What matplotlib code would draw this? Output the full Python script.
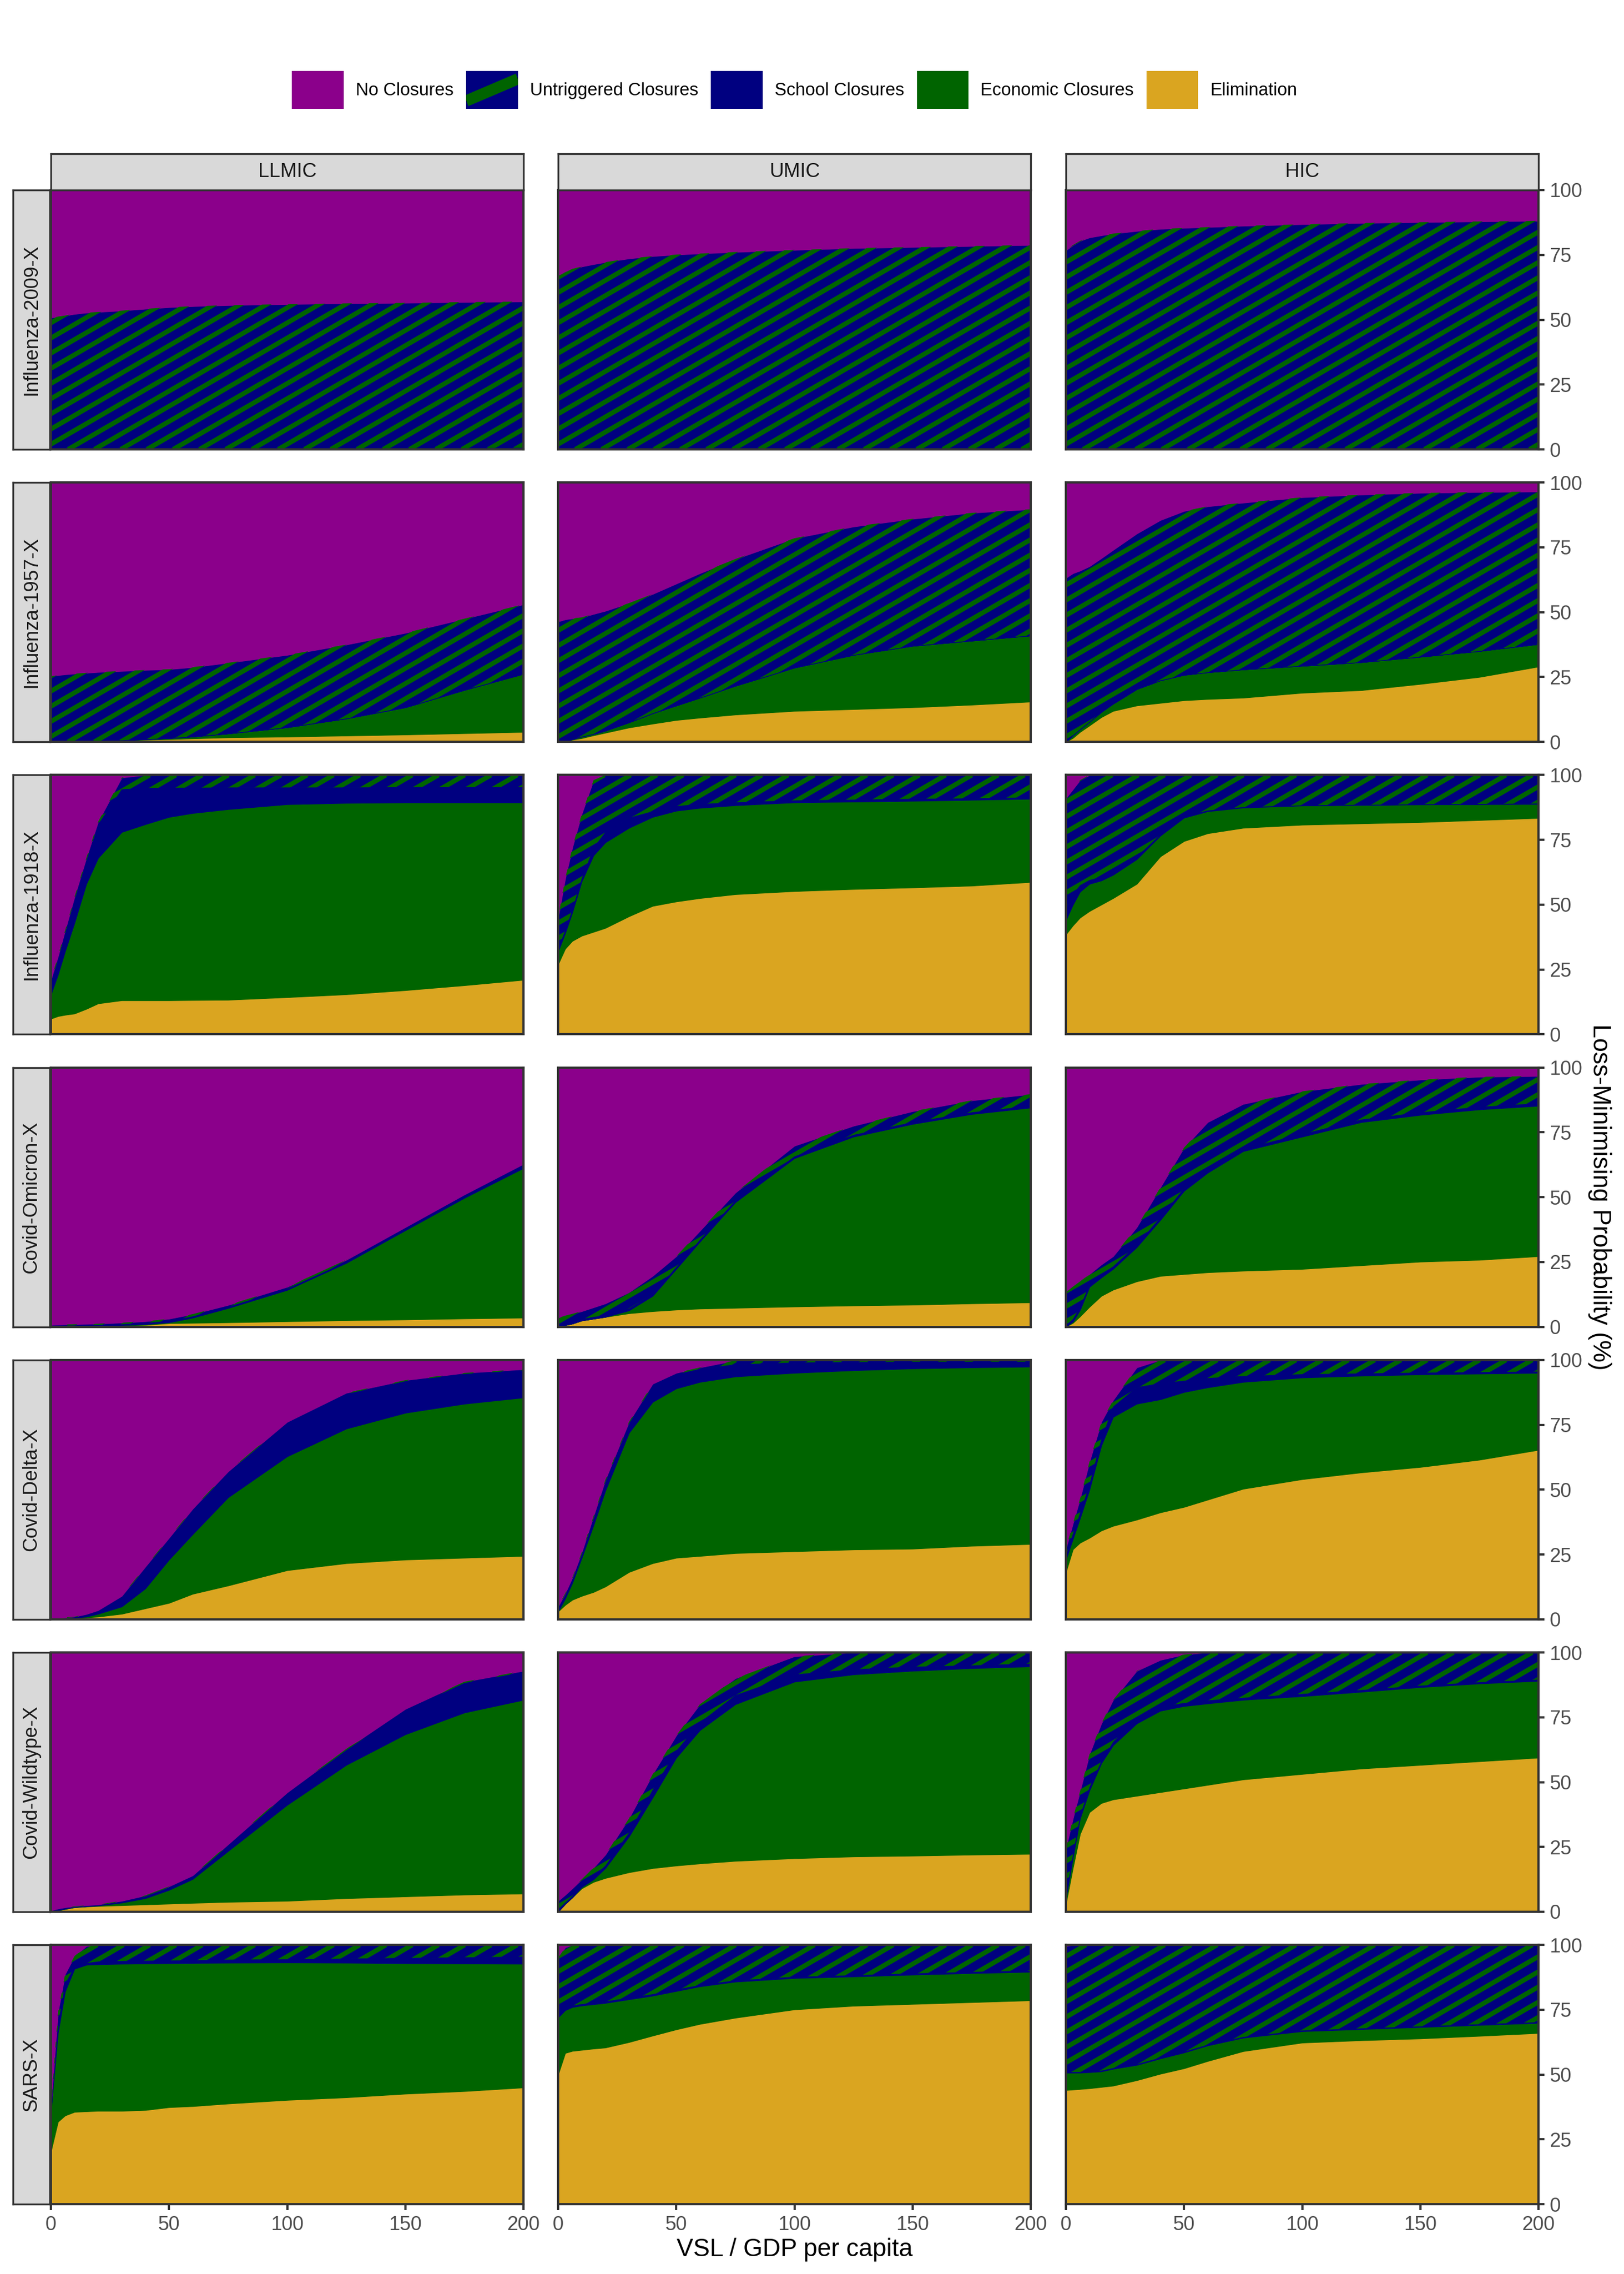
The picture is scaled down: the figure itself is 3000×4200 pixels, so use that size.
import numpy as np
import matplotlib.pyplot as plt
from matplotlib.collections import LineCollection
from matplotlib.legend_handler import HandlerBase
from matplotlib.lines import Line2D
from matplotlib.patches import Patch, Rectangle

plt.rcParams['font.family'] = ['Liberation Sans', 'DejaVu Sans']

# ---- data, upper edge of each stacked band in % ----
vsl = [0, 3, 6, 10, 15, 20, 30, 40, 50, 60, 75, 100, 125, 150, 175, 200]
pathogens = ['Influenza-2009-X', 'Influenza-1957-X', 'Influenza-1918-X',
             'Covid-Omicron-X', 'Covid-Delta-X', 'Covid-Wildtype-X', 'SARS-X']
incomes = ['LLMIC', 'UMIC', 'HIC']
strategies = ['No Closures', 'Untriggered Closures', 'School Closures',
              'Economic Closures', 'Elimination']

# top of Elimination band  [LLMIC, UMIC, HIC]
elim_top = {
    'Influenza-2009-X': [[0, 0, 0, 0, 0, 0, 0, 0, 0, 0, 0, 0.1, 0.2, 0.3, 0.4, 0.6],
                         [0, 0, 0, 0, 0, 0, 0, 0, 0, 0, 0, 0.1, 0.1, 0.2, 0.2, 0.3],
                         [0, 0, 0, 0, 0, 0, 0, 0, 0, 0, 0.1, 0.1, 0.2, 0.2, 0.3, 0.4]],
    'Influenza-1957-X': [[0, 0, 0, 0.1, 0.2, 0.3, 0.5, 0.8, 1.0, 1.3, 1.7, 2.0, 2.4, 2.8, 3.3, 3.8],
                         [0, 0.3, 0.8, 1.4, 2.5, 3.5, 5.5, 7.0, 8.4, 9.3, 10.5, 11.9, 12.6, 13.3, 14.3, 15.5],
                         [0, 1.5, 3.8, 6.3, 9.5, 11.9, 14.0, 15.0, 16.0, 16.5, 17.0, 18.9, 19.9, 22.3, 25.0, 29.0]],
    'Influenza-1918-X': [[6.0, 7.0, 7.5, 8.0, 9.8, 11.9, 13.1, 13.1, 13.1, 13.2, 13.3, 14.3, 15.4, 17.0, 18.9, 21.0],
                         [27.0, 33.0, 36.0, 38.0, 39.5, 41.0, 45.5, 49.5, 51.2, 52.5, 54.0, 55.2, 56.0, 56.6, 57.3, 58.7],
                         [38.5, 42.0, 45.0, 47.5, 50.0, 52.5, 58.0, 68.6, 74.5, 77.5, 79.6, 80.8, 81.3, 81.8, 82.6, 83.4]],
    'Covid-Omicron-X': [[0, 0, 0, 0.1, 0.2, 0.3, 0.4, 0.7, 1.4, 1.5, 1.7, 2.1, 2.5, 2.8, 3.2, 3.5],
                        [0, 0.6, 1.2, 2.4, 3.1, 3.8, 5.2, 6.0, 6.6, 7.0, 7.3, 7.8, 8.2, 8.5, 9.0, 9.4],
                        [0, 1.5, 4.0, 7.7, 11.9, 14.3, 17.5, 19.6, 20.3, 21.0, 21.6, 22.3, 23.7, 25.1, 25.8, 27.2]],
    'Covid-Delta-X': [[0, 0.1, 0.2, 0.5, 0.7, 1.0, 2.1, 4.2, 6.3, 9.8, 13.0, 18.9, 21.6, 23.0, 23.7, 24.4],
                      [3.0, 5.5, 7.5, 9.0, 10.5, 12.6, 18.2, 21.6, 23.7, 24.4, 25.5, 26.2, 26.9, 27.2, 28.3, 29.0],
                      [18.2, 27.0, 29.5, 31.4, 34.2, 36.0, 38.4, 41.2, 43.3, 46.1, 50.3, 54.0, 56.6, 58.7, 61.5, 65.3]],
    'Covid-Wildtype-X': [[0, 0.5, 1.0, 1.7, 2.0, 2.2, 2.5, 2.8, 3.1, 3.4, 3.8, 4.2, 5.2, 5.9, 6.6, 7.0],
                         [0, 3.0, 5.5, 9.0, 11.5, 13.0, 15.2, 16.8, 17.8, 18.6, 19.6, 20.6, 21.3, 21.6, 22.0, 22.3],
                         [3.0, 17.0, 30.0, 38.4, 41.9, 43.3, 44.7, 46.1, 47.5, 48.9, 51.0, 53.1, 55.2, 56.6, 58.0, 59.4]],
    'SARS-X': [[20.3, 31.8, 34.2, 35.6, 35.8, 36.0, 36.0, 36.3, 37.4, 37.8, 38.8, 40.2, 41.2, 42.6, 43.6, 45.0],
               [50.0, 58.3, 59.1, 59.5, 60.0, 60.4, 62.5, 65.0, 67.4, 69.5, 71.9, 75.1, 76.5, 77.2, 77.9, 78.6],
               [44.0, 44.2, 44.4, 44.7, 45.2, 45.7, 47.8, 50.3, 52.4, 55.2, 59.0, 62.3, 63.2, 63.9, 64.9, 66.0]],
}

# top of Economic Closures band
econ_top = {
    'Influenza-2009-X': [[0, 0, 0, 0, 0, 0, 0, 0, 0, 0, 0, 0.1, 0.2, 0.3, 0.4, 0.6],
                         [0, 0, 0, 0, 0, 0, 0, 0, 0, 0, 0, 0.1, 0.1, 0.2, 0.2, 0.3],
                         [0, 0, 0, 0, 0, 0, 0, 0, 0, 0, 0.1, 0.1, 0.2, 0.2, 0.3, 0.4]],
    'Influenza-1957-X': [[0, 0, 0, 0.1, 0.2, 0.3, 0.6, 1.0, 1.4, 2.0, 3.2, 5.6, 9.0, 13.3, 20.0, 26.2],
                         [0, 0.3, 1.0, 2.0, 3.0, 4.3, 7.5, 11.0, 14.0, 17.0, 21.6, 28.6, 33.5, 37.0, 39.0, 41.0],
                         [0, 2.5, 4.8, 7.7, 11.5, 14.7, 20.3, 23.7, 25.8, 26.8, 27.9, 29.3, 30.7, 32.8, 35.0, 37.7]],
    'Influenza-1918-X': [[15.4, 23.0, 32.0, 43.0, 58.0, 68.0, 78.0, 81.0, 83.8, 85.3, 86.8, 88.7, 89.2, 89.4, 89.4, 89.4],
                         [32.0, 39.0, 47.0, 59.0, 69.0, 74.0, 79.6, 83.8, 86.2, 87.3, 88.3, 89.4, 89.7, 90.0, 90.4, 90.8],
                         [44.0, 50.0, 55.0, 58.0, 59.3, 61.5, 67.5, 76.6, 83.5, 86.0, 87.4, 88.2, 88.4, 88.6, 88.7, 88.8]],
    'Covid-Omicron-X': [[0, 0, 0.1, 0.2, 0.3, 0.4, 0.6, 1.0, 1.7, 3.5, 7.2, 14.2, 24.6, 37.2, 49.7, 61.2],
                        [0, 0.6, 1.2, 2.4, 3.1, 3.8, 6.3, 11.9, 22.3, 32.8, 48.0, 65.0, 73.3, 78.2, 82.0, 84.5],
                        [0, 2.0, 6.5, 15.4, 19.0, 22.3, 30.7, 41.2, 52.4, 59.4, 67.7, 73.3, 78.9, 81.7, 83.8, 85.2]],
    'Covid-Delta-X': [[0.1, 0.2, 0.3, 0.6, 1.0, 2.1, 4.9, 11.9, 23.0, 32.8, 47.0, 62.8, 73.5, 79.6, 83.1, 85.5],
                      [3.0, 8.0, 14.0, 23.7, 36.3, 49.6, 71.9, 83.8, 89.0, 91.5, 93.6, 95.0, 96.0, 96.7, 97.1, 97.4],
                      [23.0, 31.0, 39.0, 50.0, 67.0, 78.0, 83.1, 84.8, 87.6, 89.4, 91.5, 93.2, 93.9, 94.4, 94.7, 95.0]],
    'Covid-Wildtype-X': [[0, 0.6, 1.1, 1.8, 2.1, 2.4, 3.5, 5.2, 8.4, 12.6, 23.4, 41.2, 56.6, 68.4, 76.8, 81.7],
                         [0, 3.0, 5.5, 9.5, 12.5, 16.8, 29.0, 44.0, 59.4, 70.0, 80.0, 88.7, 91.5, 92.9, 93.9, 94.6],
                         [5.0, 21.0, 36.0, 46.8, 57.3, 64.2, 72.6, 77.5, 79.3, 80.3, 81.7, 83.1, 84.8, 86.6, 88.0, 89.0]],
    'SARS-X': [[36.0, 66.0, 82.0, 90.8, 92.3, 92.5, 92.7, 92.8, 92.9, 93.0, 93.1, 93.2, 93.1, 92.9, 92.8, 92.7],
               [72.0, 74.8, 76.0, 76.6, 77.1, 77.6, 79.0, 80.4, 82.2, 84.0, 85.8, 87.2, 87.8, 88.5, 89.1, 89.6],
               [50.7, 50.7, 50.7, 50.9, 51.2, 52.2, 53.7, 56.2, 58.5, 61.2, 64.2, 66.7, 67.5, 68.3, 69.1, 69.9]],
}

# top of School Closures band
school_top = {
    'Influenza-2009-X': [[0, 0, 0, 0, 0, 0, 0, 0, 0, 0, 0, 0.1, 0.2, 0.3, 0.4, 0.6],
                         [0, 0, 0, 0, 0, 0, 0, 0, 0, 0, 0, 0.1, 0.1, 0.2, 0.2, 0.3],
                         [0, 0, 0, 0, 0, 0, 0, 0, 0, 0, 0.1, 0.1, 0.2, 0.2, 0.3, 0.4]],
    'Influenza-1957-X': [[0, 0, 0, 0.1, 0.2, 0.3, 0.6, 1.0, 1.4, 2.0, 3.2, 5.6, 9.0, 13.3, 20.0, 26.2],
                         [0, 0.3, 1.0, 2.0, 3.0, 4.3, 7.5, 11.0, 14.0, 17.0, 21.6, 28.6, 33.5, 37.0, 39.0, 41.0],
                         [0, 2.5, 4.8, 7.7, 11.5, 14.7, 20.3, 23.7, 25.8, 26.8, 27.9, 29.3, 30.7, 32.8, 35.0, 37.7]],
    'Influenza-1918-X': [[20.0, 29.0, 39.0, 52.0, 67.0, 81.0, 94.5, 95.0, 95.1, 95.1, 95.2, 95.2, 95.2, 95.3, 95.3, 95.3],
                         [33.0, 40.0, 48.0, 60.0, 72.0, 78.0, 83.5, 86.0, 88.0, 88.8, 89.5, 90.2, 90.5, 90.8, 91.0, 91.3],
                         [49.0, 54.0, 57.5, 59.5, 60.6, 62.5, 68.5, 77.0, 84.0, 86.3, 87.6, 88.3, 88.5, 88.7, 88.8, 89.0]],
    'Covid-Omicron-X': [[0.2, 0.3, 0.4, 0.5, 0.6, 0.7, 1.0, 1.5, 2.2, 4.0, 7.7, 14.7, 25.0, 37.7, 50.2, 62.0],
                        [0.4, 1.0, 1.8, 3.0, 3.8, 4.5, 7.0, 12.6, 23.0, 33.5, 48.7, 65.7, 74.0, 78.9, 82.7, 85.2],
                        [0.5, 3.0, 7.5, 16.4, 20.0, 23.3, 31.7, 42.2, 53.4, 60.4, 68.7, 74.3, 79.9, 82.7, 84.8, 86.2]],
    'Covid-Delta-X': [[0.2, 0.3, 0.5, 0.8, 1.6, 3.1, 8.6, 19.9, 31.0, 42.2, 56.6, 75.7, 86.9, 91.8, 94.6, 96.0],
                      [4.5, 9.5, 15.5, 25.0, 39.0, 53.0, 75.5, 90.0, 94.5, 96.5, 98.3, 99.0, 99.2, 99.3, 99.3, 99.3],
                      [24.5, 33.0, 41.0, 52.0, 69.5, 82.0, 89.5, 91.0, 92.0, 93.0, 93.8, 94.5, 94.8, 95.1, 95.3, 95.5]],
    'Covid-Wildtype-X': [[0.3, 0.9, 1.4, 1.9, 2.3, 2.6, 3.9, 6.0, 9.4, 13.5, 25.5, 45.5, 62.3, 77.7, 88.2, 92.4],
                         [1.0, 3.5, 6.0, 10.0, 13.5, 17.8, 30.5, 47.0, 62.0, 73.0, 83.5, 91.5, 93.5, 94.5, 95.0, 95.7],
                         [6.0, 22.0, 37.0, 48.0, 58.0, 65.5, 74.5, 79.0, 80.5, 81.5, 82.5, 84.0, 85.5, 87.2, 88.5, 89.5]],
    'SARS-X': [[37.0, 69.0, 85.0, 91.5, 93.0, 93.6, 93.8, 93.9, 94.0, 94.1, 94.3, 94.5, 94.7, 95.0, 95.2, 95.5],
               [73.3, 75.5, 76.6, 77.2, 77.7, 78.2, 79.6, 81.0, 82.8, 84.5, 86.3, 87.7, 88.3, 89.0, 89.6, 90.1],
               [51.0, 51.0, 51.0, 51.2, 51.5, 52.5, 54.0, 56.5, 58.8, 61.5, 64.5, 67.0, 67.8, 68.6, 69.4, 70.2]],
}

# top of Untriggered Closures band (rest up to 100 is No Closures)
untrig_top = {
    'Influenza-2009-X': [[50.8, 51.2, 51.6, 52.2, 52.7, 53.0, 53.5, 54.2, 54.8, 55.2, 55.6, 56.0, 56.3, 56.5, 56.8, 57.0],
                         [66.8, 68.3, 69.6, 70.5, 71.4, 72.2, 73.6, 74.5, 75.1, 75.5, 76.1, 76.9, 77.6, 78.0, 78.4, 78.8],
                         [76.7, 78.8, 80.4, 81.7, 82.5, 83.2, 84.2, 85.0, 85.4, 85.7, 86.2, 86.8, 87.3, 87.6, 87.9, 88.1]],
    'Influenza-1957-X': [[25.3, 25.7, 26.0, 26.3, 26.6, 26.9, 27.3, 27.7, 28.0, 28.8, 30.5, 33.5, 37.5, 42.0, 47.5, 53.0],
                         [46.4, 47.2, 47.6, 48.0, 49.3, 50.5, 53.5, 57.0, 61.0, 65.0, 70.5, 78.5, 83.0, 86.0, 88.3, 89.7],
                         [63.2, 65.0, 66.0, 67.7, 70.8, 74.0, 80.3, 85.5, 89.0, 90.8, 92.2, 94.3, 95.3, 96.0, 96.3, 96.5]],
    'Influenza-1918-X': [[21.0, 30.0, 40.0, 53.0, 68.0, 82.0, 99.0, 100, 100, 100, 100, 100, 100, 100, 100, 100],
                         [45.0, 60.0, 72.0, 85.0, 98.0, 100, 100, 100, 100, 100, 100, 100, 100, 100, 100, 100],
                         [91.0, 94.5, 98.0, 100, 100, 100, 100, 100, 100, 100, 100, 100, 100, 100, 100, 100]],
    'Covid-Omicron-X': [[0.7, 0.8, 0.9, 1.0, 1.1, 1.2, 1.6, 2.1, 3.1, 4.9, 8.4, 15.4, 25.8, 38.4, 51.0, 62.8],
                        [3.5, 4.3, 5.0, 6.0, 7.5, 9.0, 13.3, 19.6, 27.2, 37.0, 51.7, 69.8, 77.5, 83.1, 87.3, 89.7],
                        [13.3, 15.5, 17.5, 20.3, 24.0, 27.2, 38.4, 53.8, 69.1, 78.9, 85.9, 90.8, 93.6, 95.3, 96.4, 96.7]],
    'Covid-Delta-X': [[0.3, 0.5, 0.7, 1.0, 2.0, 3.5, 9.0, 20.3, 31.4, 42.6, 57.0, 76.1, 87.3, 92.2, 95.0, 96.4],
                      [4.9, 10.0, 16.0, 25.8, 39.8, 53.8, 76.1, 90.8, 95.0, 97.1, 99.8, 100, 100, 100, 100, 100],
                      [27.2, 37.0, 46.5, 60.8, 76.1, 84.5, 97.1, 100, 100, 100, 100, 100, 100, 100, 100, 100]],
    'Covid-Wildtype-X': [[0.5, 1.2, 1.7, 2.1, 2.5, 2.8, 4.2, 6.3, 9.8, 14.0, 26.0, 46.0, 62.8, 78.2, 88.7, 92.9],
                         [4.2, 6.5, 9.0, 12.5, 17.0, 22.0, 36.0, 53.0, 68.0, 80.0, 90.0, 98.5, 100, 100, 100, 100],
                         [24.4, 36.0, 46.5, 60.8, 72.6, 81.7, 92.9, 97.1, 99.2, 100, 100, 100, 100, 100, 100, 100]],
    'SARS-X': [[38.0, 74.0, 88.7, 95.7, 99.5, 100, 100, 100, 100, 100, 100, 100, 100, 100, 100, 100],
               [95.0, 99.0, 100, 100, 100, 100, 100, 100, 100, 100, 100, 100, 100, 100, 100, 100],
               [99.5, 100, 100, 100, 100, 100, 100, 100, 100, 100, 100, 100, 100, 100, 100, 100]],
}

PURPLE = '#8B008B'
NAVY = '#000080'
GREEN = '#006400'
GOLD = '#DAA520'
layer_colors = [GOLD, GREEN, NAVY, NAVY, PURPLE]   # bottom -> top

W, H = 3000, 4200
fig = plt.figure(figsize=(10, 14), dpi=300)

col_left = [94, 1031, 1969]
pw = 873
row_top = [351 + 540.2 * i for i in range(7)]
ph = 479


def box(x0, y0, w, h):
    # pixel box (top-left origin) -> figure fraction
    return [x0 / W, 1 - (y0 + h) / H, w / W, h / H]


def add_stripes(ax, poly):
    # green 30-degree stripes over the navy band
    bb = ax.get_position()
    wpx, hpx = bb.width * W, bb.height * H
    run = hpx / np.tan(np.radians(30))
    segs = [[(c / wpx, 0), ((c + run) / wpx, 1)]
            for c in np.arange(-run - 60, wpx + 60, 48.5)]
    lc = LineCollection(segs, colors=GREEN, linewidths=2.1,
                        transform=ax.transAxes, capstyle='butt')
    ax.add_collection(lc, autolim=False)
    lc.set_clip_path(poly.get_paths()[0], ax.transData)


BORDER = '#333333'
for r, pat in enumerate(pathogens):
    for c, inc in enumerate(incomes):
        ax = fig.add_axes(box(col_left[c], row_top[r], pw, ph))
        e = np.array(elim_top[pat][c], float)
        k = np.array(econ_top[pat][c], float)
        s = np.array(school_top[pat][c], float)
        u = np.array(untrig_top[pat][c], float)
        tops = np.vstack([np.zeros_like(e), e, k, s, u, np.full_like(e, 100)])
        shares = np.clip(np.diff(tops, axis=0), 0, None)
        polys = ax.stackplot(vsl, *shares, colors=layer_colors)
        for p, col in zip(polys, layer_colors):
            p.set_edgecolor(col)
            p.set_linewidth(0.3)
        add_stripes(ax, polys[3])
        ax.set_xlim(0, 200)
        ax.set_ylim(0, 100)
        for sp in ax.spines.values():
            sp.set_color(BORDER)
            sp.set_linewidth(1.0)
            sp.set_zorder(5)
        ax.tick_params(length=2.75, width=1.0, color=BORDER, labelsize=8.8,
                       labelcolor='#4D4D4D', pad=2.2)
        ax.set_xticks([0, 50, 100, 150, 200])
        ax.set_yticks([0, 25, 50, 75, 100])
        if r < 6:
            ax.tick_params(bottom=False, labelbottom=False)
        if c == 2:
            ax.yaxis.tick_right()
        else:
            ax.tick_params(left=False, labelleft=False)

        if r == 0:
            sax = fig.add_axes(box(col_left[c], 284, pw, 67))
            sax.set_facecolor('#D9D9D9')
            sax.set_xticks([])
            sax.set_yticks([])
            for sp in sax.spines.values():
                sp.set_color(BORDER)
                sp.set_linewidth(0.8)
            sax.text(0.5, 0.5, inc, ha='center', va='center', fontsize=8.8,
                     color='#1A1A1A', transform=sax.transAxes)
        if c == 0:
            sax = fig.add_axes(box(24, row_top[r], 68, ph))
            sax.set_facecolor('#D9D9D9')
            sax.set_xticks([])
            sax.set_yticks([])
            for sp in sax.spines.values():
                sp.set_color(BORDER)
                sp.set_linewidth(0.8)
            sax.text(0.5, 0.5, pat, ha='center', va='center', fontsize=8.8,
                     color='#1A1A1A', rotation=90, transform=sax.transAxes)

fig.text(1468 / W, 1 - 4155 / H, 'VSL / GDP per capita', ha='center',
         va='center', fontsize=11)
fig.text(2955 / W, 1 - 2211 / H, 'Loss-Minimising Probability (%)', ha='center',
         va='center', fontsize=11, rotation=270)


class StripeKey(HandlerBase):
    def create_artists(self, legend, orig, xd, yd, w, h, fontsize, trans):
        x0, y0 = -xd, -yd
        bg = Rectangle((x0, y0), w, h, facecolor=NAVY, edgecolor='none',
                       transform=trans)
        st = Line2D([x0, x0 + w], [y0 + 0.21 * h, y0 + 0.79 * h], color=GREEN,
                    lw=5, solid_capstyle='butt', transform=trans)
        st.set_clip_path(bg)
        return [bg, st]


leg_colors = [PURPLE, NAVY, NAVY, GREEN, GOLD]
handles = [Patch(facecolor=col, edgecolor='none') for col in leg_colors]
fig.legend(handles, strategies, loc='center',
           bbox_to_anchor=(1468 / W, 1 - 166 / H), ncol=5, frameon=False,
           fontsize=7.9, handlelength=2.9, handleheight=2.9,
           handletextpad=0.68, columnspacing=0.7, borderpad=0,
           handler_map={handles[1]: StripeKey()})

fig.savefig('out.png', dpi=300)
